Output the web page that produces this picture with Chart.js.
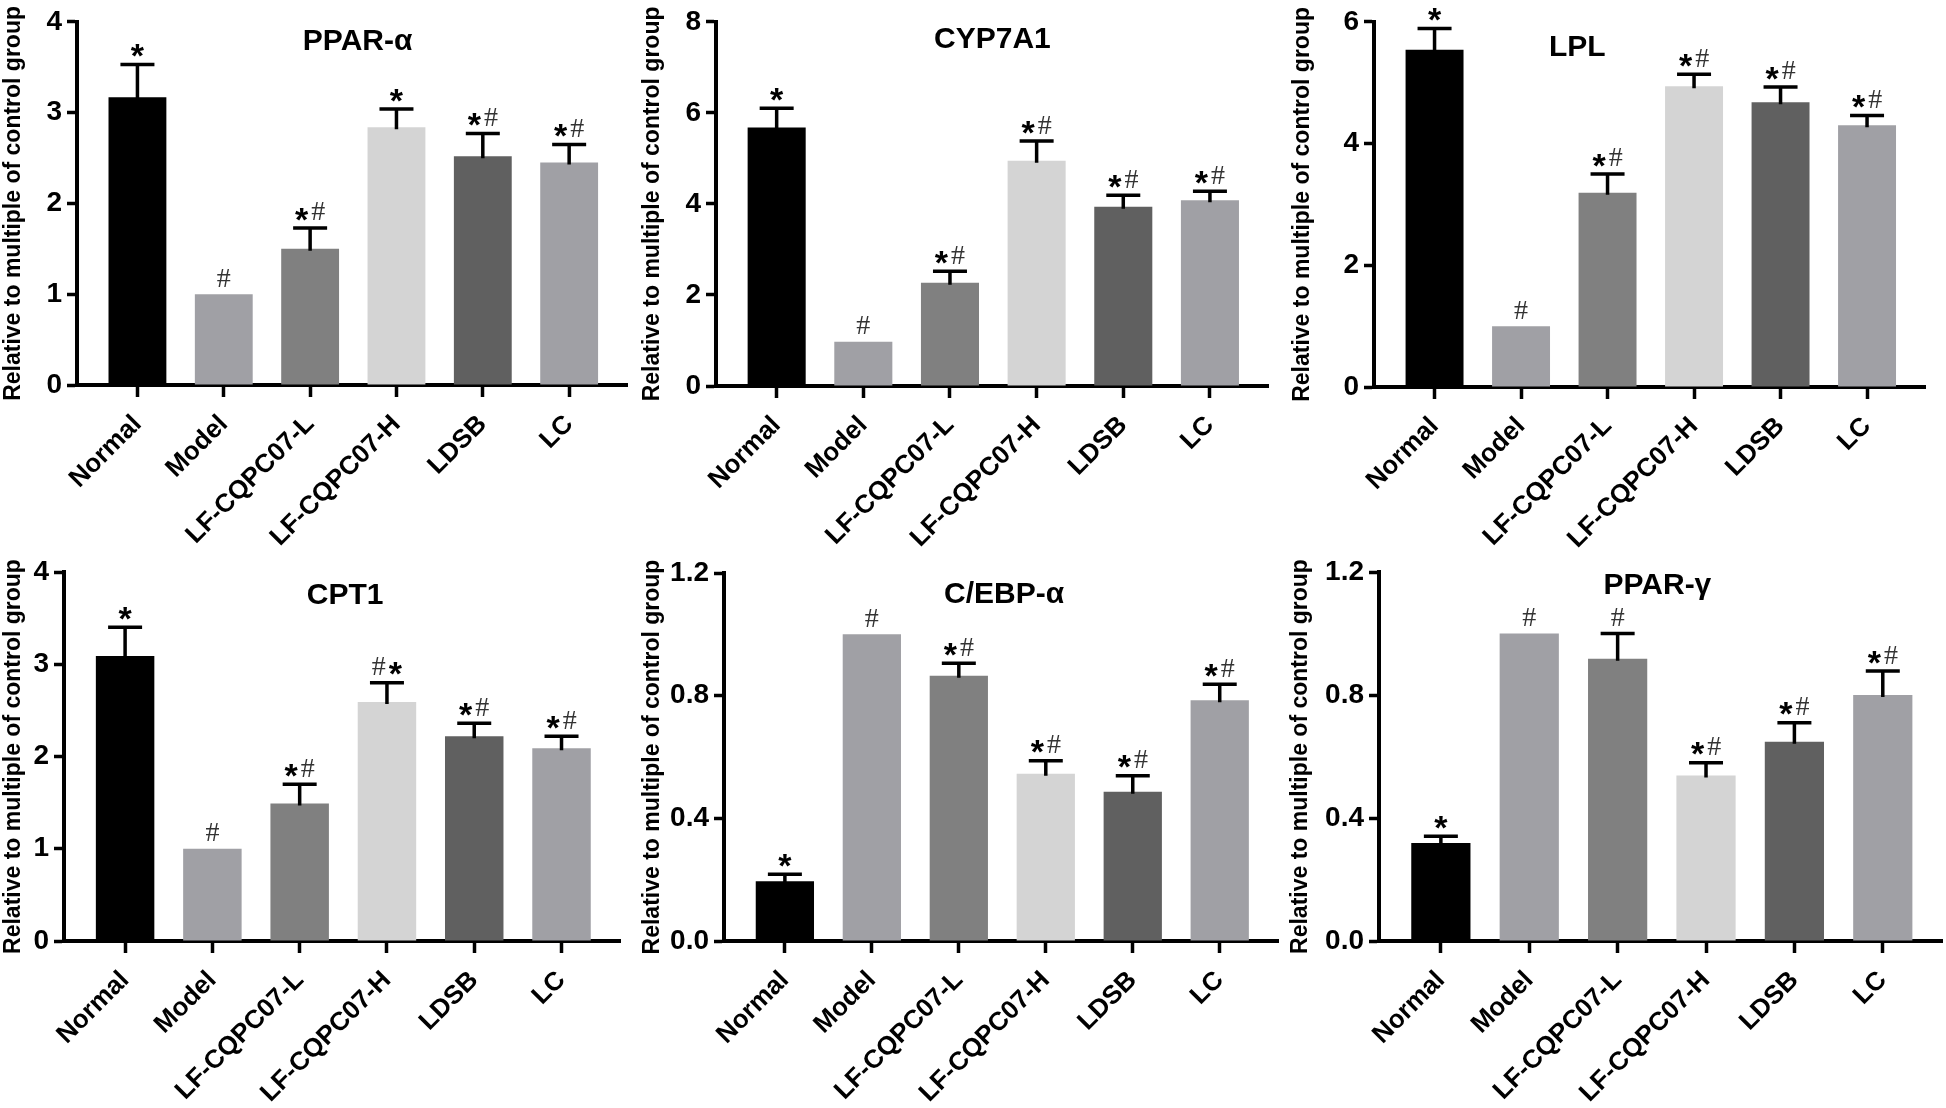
<!DOCTYPE html>
<html>
<head>
<meta charset="utf-8">
<title>Relative expression of lipid metabolism genes</title>
<script src="https://cdn.jsdelivr.net/npm/chart.js@4.4.1/dist/chart.umd.min.js"></script>
<style>
  html, body { margin: 0; padding: 0; background: #fff; }
  #wrap { position: relative; width: 1946px; height: 1108px; overflow: hidden; }
  #wrap canvas { position: absolute; }
</style>
</head>
<body>
<div id="wrap"></div>
<script>
const groups = ['Normal', 'Model', 'LF-CQPC07-L', 'LF-CQPC07-H', 'LDSB', 'LC'];

// mean values, upper error (SD) and significance marks per gene
const pparA = [3.17, 1.0, 1.5, 2.84, 2.52, 2.45];
const pparAErr = [0.36, 0, 0.23, 0.2, 0.25, 0.2];
const pparAMarks = ['*', '#', '*#', '*', '*#', '*#'];

const cyp7a1 = [5.68, 0.97, 2.27, 4.95, 3.94, 4.08];
const cyp7a1Err = [0.42, 0, 0.25, 0.43, 0.25, 0.2];
const cyp7a1Marks = ['*', '#', '*#', '*#', '*#', '*#'];

const lpl = [5.54, 1.0, 3.19, 4.94, 4.68, 4.3];
const lplErr = [0.35, 0, 0.31, 0.2, 0.25, 0.16];
const lplMarks = ['*', '#', '*#', '*#', '*#', '*#'];

const cpt1 = [3.09, 1.0, 1.49, 2.59, 2.22, 2.09];
const cpt1Err = [0.31, 0, 0.21, 0.21, 0.14, 0.13];
const cpt1Marks = ['*', '#', '*#', '#*', '*#', '*#'];

const cebpA = [0.195, 1.0, 0.865, 0.545, 0.487, 0.785];
const cebpAErr = [0.023, 0, 0.041, 0.043, 0.052, 0.052];
const cebpAMarks = ['*', '#', '*#', '*#', '*#', '*#'];

const pparG = [0.319, 1.0, 0.918, 0.538, 0.648, 0.8];
const pparGErr = [0.022, 0, 0.082, 0.042, 0.062, 0.078];
const pparGMarks = ['*', '#', '#', '*#', '*#', '*#'];

const barColors = ['#000000', '#a0a0a5', '#808080', '#d4d4d4', '#606060', '#a0a0a5'];
const yTitle = 'Relative to multiple of control group';
const sans = '"Liberation Sans", Arial, Helvetica, sans-serif';
const serif = '"Liberation Serif", "Times New Roman", serif';

const panels = [
  {title: 'PPAR-α', values: pparA, err: pparAErr, marks: pparAMarks, max: 4, step: 1, digits: 0,
   box: {left: 0, top: 0, width: 645, height: 550}, plot: {left: 77, top: 16, right: 627, bottom: 385},
   titleAt: 2.55, titleDy: 20},
  {title: 'CYP7A1', values: cyp7a1, err: cyp7a1Err, marks: cyp7a1Marks, max: 8, step: 2, digits: 0,
   box: {left: 639, top: 0, width: 650, height: 550}, plot: {left: 716, top: 16, right: 1268, bottom: 386},
   titleAt: 2.49, titleDy: 18},
  {title: 'LPL', values: lpl, err: lplErr, marks: lplMarks, max: 6, step: 2, digits: 0,
   box: {left: 1289, top: 0, width: 657, height: 550}, plot: {left: 1374, top: 19, right: 1925, bottom: 387},
   titleAt: 1.65, titleDy: 26},
  {title: 'CPT1', values: cpt1, err: cpt1Err, marks: cpt1Marks, max: 4, step: 1, digits: 0,
   box: {left: 0, top: 550, width: 640, height: 558}, plot: {left: 64, top: 572, right: 620, bottom: 941},
   titleAt: 2.52, titleDy: 24},
  {title: 'C/EBP-α', values: cebpA, err: cebpAErr, marks: cebpAMarks, max: 1.2, step: 0.4, digits: 1,
   box: {left: 639, top: 550, width: 650, height: 558}, plot: {left: 724, top: 573, right: 1278, bottom: 941},
   titleAt: 2.52, titleDy: 22},
  {title: 'PPAR-γ', values: pparG, err: pparGErr, marks: pparGMarks, max: 1.2, step: 0.4, digits: 1,
   box: {left: 1287, top: 550, width: 659, height: 558}, plot: {left: 1379, top: 572, right: 1942, bottom: 941},
   titleAt: 2.45, titleDy: 14}
];

// glyph centre sits this far (in em) above the baseline
const markStyle = {
  '*': {font: 'bold 34px ' + sans, size: 34, lift: 0.58, color: '#000'},
  '#': {font: '28px ' + serif, size: 28, lift: 0.34, color: '#333'}
};

function drawMark(ctx, mark, cx, cy) {
  const gap = 3;
  const parts = mark.split('');
  const widths = parts.map(ch => {
    ctx.font = markStyle[ch].font;
    return ctx.measureText(ch).width;
  });
  const total = widths.reduce((a, b) => a + b, 0) + gap * (parts.length - 1);
  let x = cx - total / 2;
  parts.forEach((ch, i) => {
    const s = markStyle[ch];
    ctx.font = s.font;
    ctx.fillStyle = s.color;
    ctx.textAlign = 'left';
    ctx.textBaseline = 'alphabetic';
    ctx.fillText(ch, x, cy + s.lift * s.size);
    x += widths[i] + gap;
  });
}

function overlay(p) {
  return {
    id: 'overlay',
    afterDraw(chart) {
      const ctx = chart.ctx;
      const y = chart.scales.y;
      const x = chart.scales.x;
      const meta = chart.getDatasetMeta(0);
      ctx.save();
      ctx.strokeStyle = '#000';
      ctx.lineWidth = 3.5;
      meta.data.forEach((bar, i) => {
        const top = y.getPixelForValue(p.values[i]);
        let peak = top;
        if (p.err[i] > 0) {
          peak = y.getPixelForValue(p.values[i] + p.err[i]);
          ctx.beginPath();
          ctx.moveTo(bar.x, top + 2);
          ctx.lineTo(bar.x, peak);
          ctx.moveTo(bar.x - 17, peak);
          ctx.lineTo(bar.x + 17, peak);
          ctx.stroke();
        }
        drawMark(ctx, p.marks[i], bar.x, peak - 17);
      });
      ctx.fillStyle = '#000';
      ctx.font = 'bold 30px ' + sans;
      ctx.textAlign = 'center';
      ctx.textBaseline = 'middle';
      ctx.fillText(p.title, x.getPixelForValue(p.titleAt), chart.chartArea.top + p.titleDy);
      ctx.restore();
    }
  };
}

function buildChart(p) {
  const canvas = document.createElement('canvas');
  canvas.width = p.box.width;
  canvas.height = p.box.height;
  canvas.style.left = p.box.left + 'px';
  canvas.style.top = p.box.top + 'px';
  canvas.style.width = p.box.width + 'px';
  canvas.style.height = p.box.height + 'px';
  document.getElementById('wrap').appendChild(canvas);

  return new Chart(canvas, {
    type: 'bar',
    data: {
      datasets: [{
        data: p.values.map((v, i) => ({x: i, y: v})),
        backgroundColor: barColors,
        borderWidth: 0,
        barPercentage: 0.67,
        categoryPercentage: 1
      }]
    },
    options: {
      responsive: false,
      animation: false,
      devicePixelRatio: 1,
      layout: {
        padding: {
          top: p.plot.top - p.box.top,
          right: p.box.left + p.box.width - p.plot.right,
          left: 0,
          bottom: 0
        }
      },
      plugins: {legend: {display: false}, tooltip: {enabled: false}, title: {display: false}},
      scales: {
        x: {
          type: 'linear',
          min: -0.7,
          max: 5.67,
          offset: false,
          z: 1,
          grid: {display: true, offset: false, drawOnChartArea: false, drawTicks: true,
                 tickLength: 12, tickWidth: 3.5, tickColor: '#000'},
          border: {display: true, color: '#000', width: 4},
          ticks: {
            stepSize: 1, autoSkip: false, includeBounds: false,
            minRotation: 45, maxRotation: 45, padding: 12, color: '#000',
            font: {family: sans, size: 26, weight: 'bold'},
            callback: v => (Number.isInteger(v) && groups[v]) ? groups[v] : ''
          },
          afterFit: s => { s.height = p.box.top + p.box.height - p.plot.bottom; }
        },
        y: {
          min: 0,
          max: p.max,
          z: 1,
          grid: {display: true, drawOnChartArea: false, drawTicks: true,
                 tickLength: 10, tickWidth: 3.5, tickColor: '#000'},
          border: {display: true, color: '#000', width: 4},
          ticks: {
            stepSize: p.step, padding: 5, color: '#000',
            font: {family: sans, size: 28, weight: 'bold'},
            callback: v => Number(v).toFixed(p.digits)
          },
          title: {display: true, text: yTitle, color: '#000', padding: 0,
                  font: {family: sans, size: 23, weight: 'bold'}},
          afterFit: s => { s.width = p.plot.left - p.box.left; }
        }
      }
    },
    plugins: [overlay(p)]
  });
}

panels.forEach(buildChart);
</script>
</body>
</html>
